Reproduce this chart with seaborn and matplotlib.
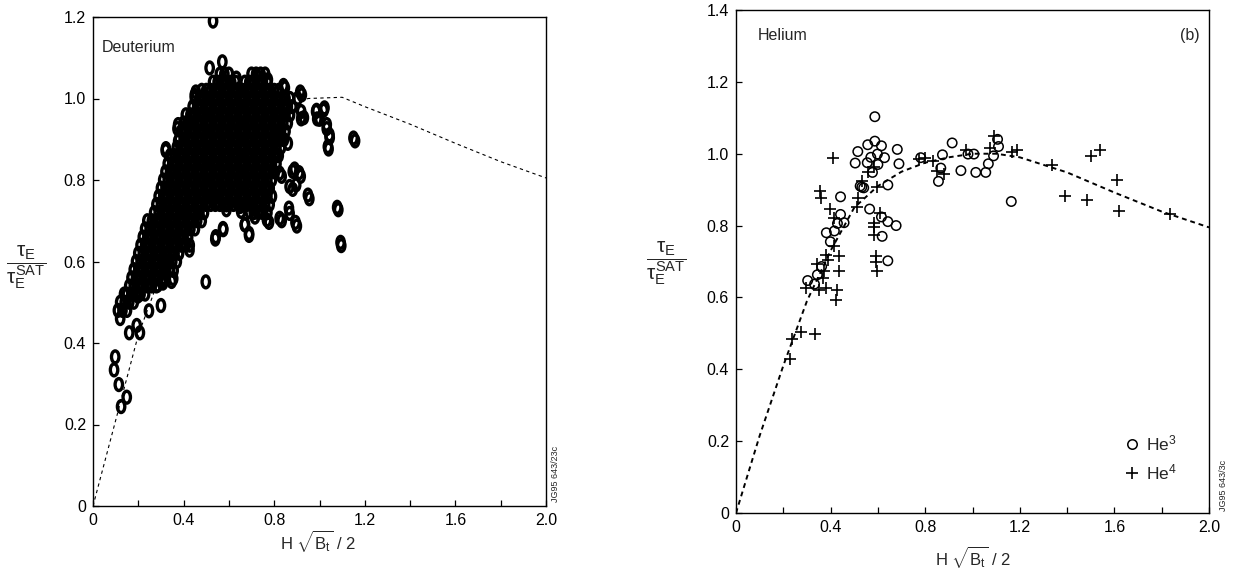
import numpy as np
import pandas as pd
import matplotlib
matplotlib.use("Agg")
import matplotlib.pyplot as plt
import seaborn as sns
from matplotlib.path import Path
from matplotlib.transforms import Affine2D
from matplotlib.lines import Line2D

# ---------------- data: Deuterium (left panel) ----------------
# dense core of the cloud, one list of x values per row level
deut_core_y = [0.46, 0.48, 0.50, 0.52, 0.54, 0.56, 0.58, 0.60, 0.62, 0.64,
               0.66, 0.68, 0.70, 0.72, 0.74, 0.76, 0.78, 0.80, 0.82, 0.84,
               0.86, 0.88, 0.90, 0.92, 0.94, 0.96, 0.98, 1.00, 1.02, 1.04, 1.06]
deut_core_x = [
    [0.12],
    [0.11, 0.13, 0.15],
    [0.12, 0.14, 0.16, 0.18],
    [0.15, 0.17, 0.19, 0.21, 0.23],
    [0.16, 0.18, 0.20, 0.22, 0.24, 0.26, 0.28],
    [0.17, 0.19, 0.21, 0.23, 0.25, 0.27, 0.29, 0.31],
    [0.18, 0.20, 0.22, 0.24, 0.26, 0.28, 0.30, 0.32, 0.34],
    [0.19, 0.21, 0.23, 0.25, 0.27, 0.29, 0.31, 0.33, 0.35, 0.37],
    [0.20, 0.22, 0.24, 0.26, 0.28, 0.30, 0.32, 0.34, 0.36, 0.38],
    [0.21, 0.23, 0.25, 0.27, 0.29, 0.31, 0.33, 0.35, 0.37, 0.39, 0.41],
    [0.22, 0.24, 0.26, 0.28, 0.30, 0.32, 0.34, 0.36, 0.38, 0.40, 0.42],
    [0.23, 0.25, 0.27, 0.29, 0.31, 0.33, 0.35, 0.37, 0.39, 0.41, 0.43, 0.45],
    [0.24, 0.26, 0.28, 0.30, 0.32, 0.34, 0.36, 0.38, 0.40, 0.42, 0.44, 0.46, 0.48],
    [0.27, 0.29, 0.31, 0.33, 0.35, 0.37, 0.39, 0.41, 0.43, 0.45, 0.47, 0.49, 0.71, 0.73, 0.75, 0.77],
    [0.28, 0.30, 0.32, 0.34, 0.36, 0.38, 0.40, 0.42, 0.44, 0.46, 0.48, 0.50, 0.52,
     0.54, 0.56, 0.58, 0.60, 0.62, 0.64, 0.66, 0.68, 0.70, 0.72, 0.74, 0.76, 0.78],
    [0.29, 0.31, 0.33, 0.35, 0.37, 0.39, 0.41, 0.43, 0.45, 0.47, 0.49, 0.51, 0.53,
     0.55, 0.57, 0.59, 0.61, 0.63, 0.65, 0.67, 0.69, 0.71, 0.73, 0.75, 0.77, 0.79],
    [0.30, 0.32, 0.34, 0.36, 0.38, 0.40, 0.42, 0.44, 0.46, 0.48, 0.50, 0.52,
     0.54, 0.56, 0.58, 0.60, 0.62, 0.64, 0.66, 0.68, 0.70, 0.72, 0.74, 0.76, 0.78],
    [0.31, 0.33, 0.35, 0.37, 0.39, 0.41, 0.43, 0.45, 0.47, 0.49, 0.51, 0.53,
     0.55, 0.57, 0.59, 0.61, 0.63, 0.65, 0.67, 0.69, 0.71, 0.73, 0.75, 0.77, 0.79],
    [0.32, 0.34, 0.36, 0.38, 0.40, 0.42, 0.44, 0.46, 0.48, 0.50, 0.52, 0.54,
     0.56, 0.58, 0.60, 0.62, 0.64, 0.66, 0.68, 0.70, 0.72, 0.74, 0.76, 0.78, 0.80],
    [0.33, 0.35, 0.37, 0.39, 0.41, 0.43, 0.45, 0.47, 0.49, 0.51, 0.53, 0.55,
     0.57, 0.59, 0.61, 0.63, 0.65, 0.67, 0.69, 0.71, 0.73, 0.75, 0.77, 0.79, 0.81],
    [0.34, 0.36, 0.38, 0.40, 0.42, 0.44, 0.46, 0.48, 0.50, 0.52, 0.54, 0.56,
     0.58, 0.60, 0.62, 0.64, 0.66, 0.68, 0.70, 0.72, 0.74, 0.76, 0.78, 0.80, 0.82],
    [0.37, 0.39, 0.41, 0.43, 0.45, 0.47, 0.49, 0.51, 0.53, 0.55, 0.57, 0.59,
     0.61, 0.63, 0.65, 0.67, 0.69, 0.71, 0.73, 0.75, 0.77, 0.79, 0.81, 0.83],
    [0.38, 0.40, 0.42, 0.44, 0.46, 0.48, 0.50, 0.52, 0.54, 0.56, 0.58, 0.60,
     0.62, 0.64, 0.66, 0.68, 0.70, 0.72, 0.74, 0.76, 0.78, 0.80, 0.82, 0.84],
    [0.39, 0.41, 0.43, 0.45, 0.47, 0.49, 0.51, 0.53, 0.55, 0.57, 0.59, 0.61,
     0.63, 0.65, 0.67, 0.69, 0.71, 0.73, 0.75, 0.77, 0.79, 0.81, 0.83, 0.85],
    [0.40, 0.42, 0.44, 0.46, 0.48, 0.50, 0.52, 0.54, 0.56, 0.58, 0.60, 0.62,
     0.64, 0.66, 0.68, 0.70, 0.72, 0.74, 0.76, 0.78, 0.80, 0.82, 0.84, 0.86],
    [0.41, 0.43, 0.45, 0.47, 0.49, 0.51, 0.53, 0.55, 0.57, 0.59, 0.61, 0.63,
     0.65, 0.67, 0.69, 0.71, 0.73, 0.75, 0.77, 0.79, 0.81, 0.83, 0.85, 0.87],
    [0.44, 0.46, 0.48, 0.50, 0.52, 0.54, 0.56, 0.58, 0.60, 0.62, 0.64,
     0.66, 0.68, 0.70, 0.72, 0.74, 0.76, 0.78, 0.80, 0.82, 0.84, 0.86, 0.88],
    [0.45, 0.47, 0.49, 0.51, 0.53, 0.55, 0.57, 0.59, 0.61, 0.63, 0.65,
     0.67, 0.69, 0.71, 0.73, 0.75, 0.77, 0.79, 0.81, 0.83, 0.85, 0.87],
    [0.48, 0.50, 0.52, 0.54, 0.56, 0.58, 0.60, 0.62, 0.64, 0.66,
     0.68, 0.70, 0.72, 0.74, 0.76, 0.78, 0.80, 0.82],
    [0.53, 0.55, 0.57, 0.59, 0.61, 0.63, 0.67, 0.69, 0.71, 0.73, 0.75, 0.77],
    [0.56, 0.58, 0.60, 0.70, 0.72, 0.74, 0.76],
]

# scattered individual shots around the cloud
deut_out_x = [0.53, 0.515, 0.571, 0.841, 0.915, 0.985, 1.022, 0.99, 1.032, 1.044,
              1.037, 1.15, 0.919, 0.376, 0.322, 0.376, 0.454, 0.435, 0.949, 1.078,
              1.093, 0.882, 0.91, 0.868, 0.897, 0.824, 0.865, 0.894, 0.768, 0.692,
              0.67, 0.689, 0.574, 0.542, 0.589, 0.65, 0.498, 0.427, 0.771, 0.824,
              0.81, 0.86, 0.824, 0.903, 0.919, 0.772, 0.633, 0.303, 0.354,
              0.098, 0.093, 0.114, 0.124, 0.149, 0.137, 0.16, 0.193, 0.207, 0.247,
              0.30, 0.286, 0.347, 0.309, 0.198, 0.356, 0.426, 0.54, 0.575, 0.545,
              0.589, 0.654, 0.671, 0.689, 0.715, 0.777, 0.833, 0.868, 0.90, 0.955,
              1.083, 1.096, 1.157, 0.987, 1.018, 1.0, 1.032, 1.045, 1.04, 0.922,
              0.931, 0.847, 0.843, 0.89, 0.917, 0.882, 0.833, 0.373, 0.321, 0.449]
deut_out_y = [1.19, 1.075, 1.09, 1.032, 1.016, 0.968, 0.977, 0.95, 0.936, 0.911,
              0.882, 0.903, 0.968, 0.936, 0.877, 0.895, 1.016, 0.956, 0.763, 0.733,
              0.647, 0.821, 0.818, 0.784, 0.788, 0.706, 0.731, 0.696, 0.702, 0.722,
              0.69, 0.669, 0.681, 0.661, 0.739, 0.735, 0.55, 0.64, 0.776, 0.817,
              0.86, 0.89, 0.91, 1.0, 0.95, 1.046, 1.05, 0.55, 0.558,
              0.366, 0.334, 0.298, 0.244, 0.267, 0.52, 0.425, 0.443, 0.425, 0.479,
              0.492, 0.542, 0.551, 0.547, 0.515, 0.578, 0.628, 0.655, 0.678, 0.745,
              0.727, 0.723, 0.691, 0.664, 0.709, 0.696, 0.70, 0.718, 0.687, 0.754,
              0.727, 0.639, 0.896, 0.971, 0.971, 0.949, 0.926, 0.904, 0.876, 1.009,
              0.953, 1.026, 0.899, 0.827, 0.809, 0.777, 0.809, 0.926, 0.872, 1.008]

deut_curve_x = [0, 0.2, 0.4, 0.6, 0.8, 0.95, 1.1, 1.2, 1.4, 1.6, 1.8, 2.0]
deut_curve_y = [0, 0.42, 0.72, 0.88, 0.97, 1.0, 1.003, 0.98, 0.937, 0.89, 0.845, 0.805]

# ---------------- data: Helium (right panel) ----------------
he3_x = [0.587, 0.515, 0.504, 0.557, 0.587, 0.615, 0.628, 0.598, 0.577, 0.642,
         0.682, 0.689, 0.565, 0.615, 0.642, 0.677, 0.618, 0.642, 0.57, 0.60, 0.555,
         0.303, 0.332, 0.344, 0.362, 0.382, 0.399, 0.429, 0.442, 0.442, 0.457,
         0.416, 0.532, 0.525, 0.54,
         0.873, 0.856, 0.914, 0.951, 0.981, 1.006, 1.014, 1.056, 1.067, 1.089,
         1.106, 1.11, 1.164, 0.781, 0.866]
he3_y = [1.103, 1.006, 0.974, 1.025, 1.035, 1.022, 0.989, 0.999, 0.948, 0.913,
         1.012, 0.972, 0.846, 0.824, 0.811, 0.80, 0.770, 0.702, 0.99, 0.97, 0.975,
         0.647, 0.637, 0.663, 0.686, 0.78, 0.755, 0.806, 0.831, 0.88, 0.808,
         0.785, 0.907, 0.91, 0.905,
         0.997, 0.923, 1.03, 0.953, 0.999, 0.999, 0.948, 0.948, 0.972, 0.994,
         1.04, 1.02, 0.867, 0.989, 0.96]

he4_x = [0.229, 0.238, 0.274, 0.332, 0.296,
         0.357, 0.361, 0.411, 0.399, 0.416, 0.382, 0.391, 0.366, 0.382, 0.421,
         0.429, 0.437, 0.437, 0.416, 0.341, 0.374, 0.349,
         0.512, 0.515, 0.532, 0.557, 0.582, 0.598, 0.582, 0.582, 0.607, 0.594,
         0.594, 0.598, 0.582,
         0.773, 0.798, 0.831, 0.848, 0.881, 0.973, 1.072, 1.089, 1.169, 1.189,
         1.338, 1.393, 1.483, 1.50, 1.538, 1.609, 1.621, 1.837]
he4_y = [0.428, 0.484, 0.505, 0.498, 0.625,
         0.895, 0.877, 0.987, 0.846, 0.821, 0.719, 0.704, 0.653, 0.627, 0.593,
         0.622, 0.714, 0.673, 0.744, 0.693, 0.673, 0.622,
         0.851, 0.877, 0.923, 0.948, 0.963, 0.907, 0.795, 0.775, 0.836, 0.714,
         0.698, 0.673, 0.806,
         0.984, 0.989, 0.979, 0.953, 0.943, 1.01, 1.015, 1.05, 1.004, 1.009,
         0.969, 0.882, 0.872, 0.994, 1.009, 0.928, 0.841, 0.831]

he_curve_x = [0, 0.1, 0.2, 0.3, 0.4, 0.5, 0.6, 0.7, 0.8, 0.9, 1.0, 1.1, 1.2,
              1.4, 1.6, 1.8, 2.0]
he_curve_y = [0, 0.215, 0.41, 0.59, 0.73, 0.85, 0.91, 0.95, 0.975, 0.99, 1.0,
              1.0, 0.99, 0.948, 0.892, 0.839, 0.795]

# tick labels
x_ticks = [0, 0.2, 0.4, 0.6, 0.8, 1.0, 1.2, 1.4, 1.6, 1.8, 2.0]
x_ticklabels = ["0", "", "0.4", "", "0.8", "", "1.2", "", "1.6", "", "2.0"]
y_ticks_left = [0, 0.2, 0.4, 0.6, 0.8, 1.0, 1.2]
y_ticklabels_left = ["0", "0.2", "0.4", "0.6", "0.8", "1.0", "1.2"]
y_ticks_right = [0, 0.2, 0.4, 0.6, 0.8, 1.0, 1.2, 1.4]
y_ticklabels_right = ["0", "0.2", "0.4", "0.6", "0.8", "1.0", "1.2", "1.4"]

# ---------------- build frames ----------------
core_x, core_y = [], []
for yv, xs in zip(deut_core_y, deut_core_x):
    core_x.extend(xs)
    core_y.extend([yv] * len(xs))
deut_df = pd.DataFrame({"x": core_x + deut_out_x, "y": core_y + deut_out_y})
he3_df = pd.DataFrame({"x": he3_x, "y": he3_y})
he4_df = pd.DataFrame({"x": he4_x, "y": he4_y})
deut_curve = pd.DataFrame({"x": deut_curve_x, "y": deut_curve_y})
he_curve = pd.DataFrame({"x": he_curve_x, "y": he_curve_y})

# ---------------- style ----------------
sns.set_style("ticks")
plt.rcParams["font.family"] = ["Liberation Sans", "DejaVu Sans"]
plt.rcParams["mathtext.fontset"] = "custom"
plt.rcParams["mathtext.rm"] = "Liberation Sans"
plt.rcParams["mathtext.it"] = "Liberation Sans"
plt.rcParams["mathtext.sf"] = "Liberation Sans"

fig = plt.figure(figsize=(12.39, 5.72), dpi=100)
axL = fig.add_axes([93 / 1239, 1 - 506 / 572, (546 - 93) / 1239, (506 - 17) / 572])
axR = fig.add_axes([736 / 1239, 1 - 513 / 572, (1209 - 736) / 1239, (513 - 10) / 572])

oval = Path.unit_circle().transformed(Affine2D().scale(0.62, 1.0))

# left panel
sns.lineplot(data=deut_curve, x="x", y="y", ax=axL, color="black", lw=0.8,
             linestyle=(0, (3, 3)), sort=False, estimator=None)
sns.scatterplot(data=deut_df, x="x", y="y", ax=axL, marker=oval, s=74,
                facecolor="none", edgecolor="black", linewidth=2.4, zorder=3)
deut_pts = axL.collections[-1]
deut_pts.set_linewidths([2.4])
deut_pts.set_facecolor("none")
deut_pts.set_edgecolor("black")

# right panel
sns.lineplot(data=he_curve, x="x", y="y", ax=axR, color="black", lw=1.4,
             linestyle=(0, (2.5, 2)), sort=False, estimator=None)
sns.scatterplot(data=he3_df, x="x", y="y", ax=axR, marker="o", s=46,
                facecolor="none", edgecolor="black", linewidth=1.1, zorder=3)
he3_pts = axR.collections[-1]
he3_pts.set_linewidths([1.1])
sns.scatterplot(data=he4_df, x="x", y="y", ax=axR, marker="+", s=80,
                color="black", linewidth=1.2, zorder=3)
he4_pts = axR.collections[-1]
he4_pts.set_linewidths([1.2])

ylabel = r"$\dfrac{\tau_\mathrm{E}}{\tau_\mathrm{E}^\mathrm{SAT}}$"
xlabel = r"H $\sqrt{\mathrm{B_t}}$ / 2"

for ax, yt, ytl, ymax in [(axL, y_ticks_left, y_ticklabels_left, 1.2),
                          (axR, y_ticks_right, y_ticklabels_right, 1.4)]:
    ax.set_xlim(0, 2.0)
    ax.set_ylim(0, ymax)
    ax.set_xticks(x_ticks)
    ax.set_xticklabels(x_ticklabels)
    ax.set_yticks(yt)
    ax.set_yticklabels(ytl)
    ax.tick_params(direction="in", length=4, width=0.9, labelsize=11.5,
                   colors="black", pad=5)
    for sp in ax.spines.values():
        sp.set_visible(True)
        sp.set_linewidth(1.0)
        sp.set_color("black")
    ax.set_xlabel(xlabel, fontsize=12)
    ax.set_ylabel(ylabel, fontsize=15, rotation=0, va="center", ha="center")
    ax.set_facecolor("white")

axL.xaxis.set_label_coords(0.497, -0.045)
axL.yaxis.set_label_coords(-0.148, 0.489)
axR.xaxis.set_label_coords(0.501, -0.062)
axR.yaxis.set_label_coords(-0.148, 0.497)

axL.text(0.04, 1.126, "Deuterium", fontsize=11.5, ha="left", va="center")
axR.text(0.093, 1.33, "Helium", fontsize=11.5, ha="left", va="center")
axR.text(1.92, 1.33, "(b)", fontsize=11.5, ha="center", va="center")

handles = [Line2D([], [], marker="o", mfc="none", mec="black", ls="none",
                  ms=6.8, mew=1.1),
           Line2D([], [], marker="+", color="black", ls="none", ms=9, mew=1.2)]
axR.legend(handles, ["He$^3$", "He$^4$"], loc="center",
           bbox_to_anchor=(0.875, 0.11), frameon=False, fontsize=12.5,
           handletextpad=0.3, labelspacing=0.5, handlelength=1.0,
           borderpad=0)

fig.text(556 / 1239, 1 - 474 / 572, "JG95 643/23c", rotation=90, fontsize=6.5,
         ha="center", va="center")
fig.text(1223 / 1239, 1 - 485 / 572, "JG95 643/3c", rotation=90, fontsize=6.5,
         ha="center", va="center")

fig.savefig("out.png", dpi=100, facecolor="white")
